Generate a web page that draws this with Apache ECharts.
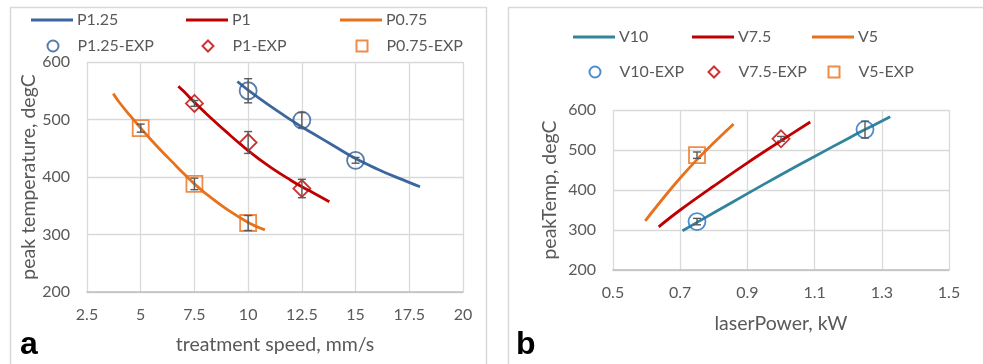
<!DOCTYPE html>
<html>
<head>
<meta charset="utf-8">
<script src="https://cdn.jsdelivr.net/npm/echarts@6/dist/echarts.min.js"></script>
<style>
html,body{margin:0;padding:0;background:#fff;}
#chart{width:983px;height:364px;}
</style>
</head>
<body>
<div id="chart"></div>
<script>
// ---------- Panel a : peak temperature vs treatment speed ----------
const speedTicks = [2.5, 5, 7.5, 10, 12.5, 15, 17.5, 20];
const tempTicksA = [200, 300, 400, 500, 600];

const speedP125 = [9.5, 10, 11, 12, 12.5, 13, 14, 15, 16, 17, 18];
const tempP125  = [566, 551, 524, 499, 487, 476, 454, 432, 414, 398, 383];
const speedP1   = [6.75, 7, 7.5, 8, 9, 10, 11, 12, 12.5, 13, 13.78];
const tempP1    = [558, 549, 530, 512, 478, 446, 418, 394, 383, 373, 357];
const speedP075 = [3.72, 4, 4.5, 5, 5.5, 6, 6.5, 7, 7.5, 8, 9, 10, 10.78];
const tempP075  = [545, 530, 507, 485, 464, 444, 425, 406, 388, 372, 344, 321, 308];

const expSpeedP125 = [10, 12.5, 15];
const expTempP125  = [550, 499, 429];
const expErrP125   = [21, 13, 5];
const expSpeedP1   = [7.5, 10, 12.5];
const expTempP1    = [528, 460, 380];
const expErrP1     = [5, 19, 16];
const expSpeedP075 = [5, 7.5, 10];
const expTempP075  = [485, 388, 320];
const expErrP075   = [7, 10, 13];

// ---------- Panel b : peak temperature vs laser power ----------
const powerTicks = [0.5, 0.7, 0.9, 1.1, 1.3, 1.5];
const tempTicksB = [200, 300, 400, 500, 600];

const powerV10  = [0.707, 0.75, 0.8, 0.9, 1.0, 1.1, 1.2, 1.25, 1.325];
const tempV10   = [298, 319, 343, 391, 438, 484, 529, 551, 583];
const powerV75  = [0.636, 0.7, 0.8, 0.9, 1.0, 1.087];
const tempV75   = [308, 350, 410, 468, 523, 570];
const powerV5   = [0.596, 0.65, 0.7, 0.75, 0.8, 0.859];
const tempV5    = [323, 380, 430, 476, 518, 565];

const expPowerV10 = [0.75, 1.25];
const expTempV10  = [321, 551];
const expErrV10   = [8, 21];
const expPowerV75 = [1.0];
const expTempV75  = [528];
const expErrV75   = [6];
const expPowerV5  = [0.75];
const expTempV5   = [487];
const expErrV5    = [8];

// ---------- helpers ----------
const FONT = 'Lato';
const TXT = '#595959';
const zip = (xs, ys) => xs.map((x, i) => [x, ys[i]]);
const errData = (xs, ys, es) => xs.map((x, i) => [x, ys[i] - es[i], ys[i] + es[i]]);

function lineSeries(name, xs, ys, color, gi) {
  return {
    name, type: 'line', xAxisIndex: gi, yAxisIndex: gi,
    data: zip(xs, ys), smooth: 0.4, symbol: 'none', showSymbol: false,
    lineStyle: { color, width: 2.8 }, itemStyle: { color }, z: 2
  };
}
function expSeries(name, xs, ys, color, symbol, size, gi) {
  return {
    name, type: 'scatter', xAxisIndex: gi, yAxisIndex: gi,
    data: zip(xs, ys), symbol, symbolSize: size,
    itemStyle: { color: 'rgba(255,255,255,0)', borderColor: color, borderWidth: 1.8 }, z: 3
  };
}
function errSeries(data, gi) {
  return {
    type: 'custom', xAxisIndex: gi, yAxisIndex: gi, data, z: 4, silent: true,
    renderItem: function (params, api) {
      const lo = api.coord([api.value(0), api.value(1)]);
      const hi = api.coord([api.value(0), api.value(2)]);
      const c = 4;
      const st = { stroke: '#595959', lineWidth: 1.4 };
      return {
        type: 'group',
        children: [
          { type: 'line', shape: { x1: lo[0], y1: lo[1], x2: hi[0], y2: hi[1] }, style: st },
          { type: 'line', shape: { x1: lo[0] - c, y1: lo[1], x2: lo[0] + c, y2: lo[1] }, style: st },
          { type: 'line', shape: { x1: hi[0] - c, y1: hi[1], x2: hi[0] + c, y2: hi[1] }, style: st }
        ]
      };
    }
  };
}
// line legend item: 42px wide line starting at x
function legendLine(name, x, yc) {
  return {
    data: [{ name, icon: 'rect' }], left: x, top: yc - 10, padding: 0, itemWidth: 42, itemHeight: 3,
    selectedMode: false,
    textStyle: { fontFamily: FONT, fontSize: 16, color: TXT, padding: [0, 0, 0, -1], lineHeight: 20 }
  };
}
// marker legend item: symbol centred at x + 21, text at x + 46
function legendMark(name, x, yc) {
  return {
    data: [name], left: x + 21 - 5.5, top: yc - 10, padding: 0, itemWidth: 11, itemHeight: 11,
    selectedMode: false,
    textStyle: { fontFamily: FONT, fontSize: 16, color: TXT, padding: [0, 0, 0, 14], lineHeight: 20 }
  };
}
function valueAxis(extra) {
  return Object.assign({
    type: 'value',
    axisTick: { show: false },
    axisLabel: { fontFamily: FONT, fontSize: 16, color: TXT },
    splitLine: { show: true, lineStyle: { color: '#d9d9d9', width: 1.3 } },
    nameLocation: 'middle',
    nameTextStyle: { fontFamily: FONT, fontSize: 19.5, color: TXT }
  }, extra);
}

const C_BLUE = '#3b66a0', C_RED = '#c00000', C_ORANGE = '#e8711c', C_TEAL = '#31849b', C_BLUE2 = '#1f72c0';

const option = {
  backgroundColor: '#fff',
  animation: false,
  graphic: [
    { type: 'rect', shape: { x: 10.5, y: 7.5, width: 476, height: 360 }, style: { fill: 'none', stroke: '#d9d9d9', lineWidth: 1.5 } },
    { type: 'rect', shape: { x: 508.5, y: 7.5, width: 480, height: 360 }, style: { fill: 'none', stroke: '#d9d9d9', lineWidth: 1.5 } },
    { type: 'text', left: 20, top: 329, style: { text: 'a', font: 'bold 32px "Liberation Sans"', fill: '#000' } },
    { type: 'text', left: 516, top: 329, style: { text: 'b', font: 'bold 32px "Liberation Sans"', fill: '#000' } }
  ],
  grid: [
    { left: 87, top: 62, width: 376, height: 230 },
    { left: 613, top: 110, width: 336, height: 160 }
  ],
  xAxis: [
    valueAxis({
      gridIndex: 0, min: speedTicks[0], max: speedTicks[speedTicks.length - 1], interval: 2.5,
      name: 'treatment speed, mm/s', nameGap: 43,
      axisLine: { show: true, lineStyle: { color: '#bfbfbf', width: 1.5 } },
      axisLabel: { fontFamily: FONT, fontSize: 16, color: TXT, margin: 15 }
    }),
    valueAxis({
      gridIndex: 1, min: powerTicks[0], max: powerTicks[powerTicks.length - 1], interval: 0.2,
      name: 'laserPower, kW', nameGap: 44,
      axisLine: { show: true, lineStyle: { color: '#bfbfbf', width: 1.5 } },
      axisLabel: { fontFamily: FONT, fontSize: 16, color: TXT, margin: 15 }
    })
  ],
  yAxis: [
    valueAxis({
      gridIndex: 0, min: tempTicksA[0], max: tempTicksA[tempTicksA.length - 1], interval: 100,
      name: 'peak temperature, degC', nameGap: 47,
      axisLine: { show: false },
      axisLabel: { fontFamily: FONT, fontSize: 16, color: TXT, margin: 17 }
    }),
    valueAxis({
      gridIndex: 1, min: tempTicksB[0], max: tempTicksB[tempTicksB.length - 1], interval: 100,
      name: 'peakTemp, degC', nameGap: 53,
      axisLine: { show: false },
      axisLabel: { fontFamily: FONT, fontSize: 16, color: TXT, margin: 17 }
    })
  ],
  legend: [
    legendLine('P1.25', 31, 20), legendLine('P1', 186, 20), legendLine('P0.75', 340, 20),
    legendMark('P1.25-EXP', 31, 46), legendMark('P1-EXP', 186, 46), legendMark('P0.75-EXP', 340, 46),
    legendLine('V10', 573, 37), legendLine('V7.5', 692, 37), legendLine('V5', 812, 37),
    legendMark('V10-EXP', 573, 72), legendMark('V7.5-EXP', 692, 72), legendMark('V5-EXP', 812, 72)
  ],
  series: [
    lineSeries('P1.25', speedP125, tempP125, C_BLUE, 0),
    lineSeries('P1', speedP1, tempP1, C_RED, 0),
    lineSeries('P0.75', speedP075, tempP075, C_ORANGE, 0),
    expSeries('P1.25-EXP', expSpeedP125, expTempP125, '#2e5c96', 'circle', 17, 0),
    expSeries('P1-EXP', expSpeedP1, expTempP1, C_RED, 'diamond', 17, 0),
    expSeries('P0.75-EXP', expSpeedP075, expTempP075, C_ORANGE, 'rect', 16, 0),
    errSeries(errData(expSpeedP125, expTempP125, expErrP125)
      .concat(errData(expSpeedP1, expTempP1, expErrP1))
      .concat(errData(expSpeedP075, expTempP075, expErrP075)), 0),

    lineSeries('V10', powerV10, tempV10, C_TEAL, 1),
    lineSeries('V7.5', powerV75, tempV75, C_RED, 1),
    lineSeries('V5', powerV5, tempV5, C_ORANGE, 1),
    expSeries('V10-EXP', expPowerV10, expTempV10, C_BLUE2, 'circle', 17, 1),
    expSeries('V7.5-EXP', expPowerV75, expTempV75, C_RED, 'diamond', 17, 1),
    expSeries('V5-EXP', expPowerV5, expTempV5, C_ORANGE, 'rect', 16, 1),
    errSeries(errData(expPowerV10, expTempV10, expErrV10)
      .concat(errData(expPowerV75, expTempV75, expErrV75))
      .concat(errData(expPowerV5, expTempV5, expErrV5)), 1)
  ]
};

const chart = echarts.init(document.getElementById('chart'), null, { renderer: 'canvas' });
chart.setOption(option);
</script>
</body>
</html>
